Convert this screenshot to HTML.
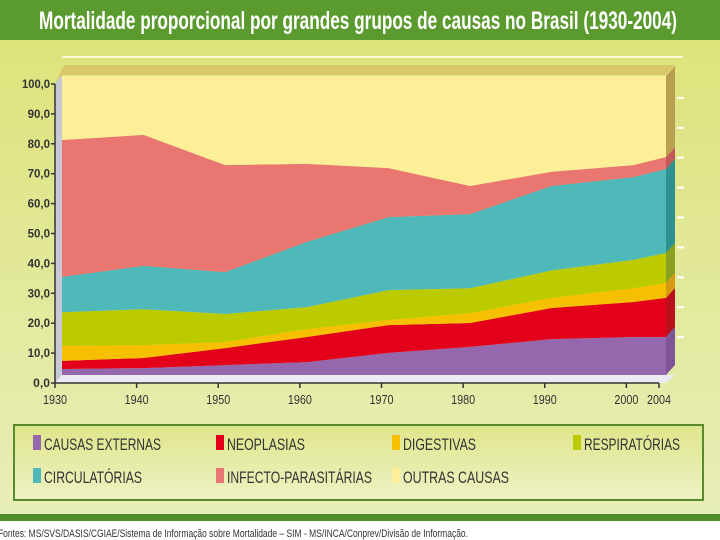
<!DOCTYPE html>
<html><head><meta charset="utf-8"><style>
html,body{margin:0;padding:0;width:720px;height:540px;overflow:hidden;background:#fff}
svg{display:block}
text{font-family:"Liberation Sans Narrow","Liberation Sans",sans-serif}
</style></head><body>
<svg id="chart" width="720" height="540" viewBox="0 0 720 540">
<defs>
<linearGradient id="bg" x1="0" y1="0" x2="0" y2="1"><stop offset="0" stop-color="#dde37a"/><stop offset="1" stop-color="#e8eeb8"/></linearGradient>
<linearGradient id="lg" x1="0" y1="0" x2="0" y2="1"><stop offset="0" stop-color="#dfe58a"/><stop offset="1" stop-color="#eef2c4"/></linearGradient>
</defs>
<rect x="0" y="38" width="720" height="477" fill="url(#bg)"/>
<rect x="0" y="0" width="720" height="40" fill="#5a9a2e"/>
<text x="39" y="29" textLength="638" lengthAdjust="spacingAndGlyphs" font-size="25" font-weight="bold" fill="#fff">Mortalidade proporcional por grandes grupos de causas no Brasil (1930-2004)</text>
<line x1="62" y1="57" x2="683" y2="57" stroke="#fbf7d8" stroke-width="2"/>
<polygon points="55,84 64,65 675,65 666,75 62,75" fill="#d8c86a"/>
<polygon points="55,84 62,75 62,375 55,383" fill="#c9c9d6"/>
<polygon points="55,383 62,375 675,375 666,383" fill="#ecebf2"/>
<g id="areas"></g>
<g id="side"></g>
<g id="axes"></g>
<g id="legend">
<rect x="14" y="425" width="689" height="75" fill="url(#lg)" stroke="#5a8a2e" stroke-width="2"/>
</g>
<rect x="0" y="514" width="720" height="7" fill="#4f8f2a"/>
<text x="-2" y="537" textLength="470" lengthAdjust="spacingAndGlyphs" font-size="11" fill="#333">Fontes: MS/SVS/DASIS/CGIAE/Sistema de Informação sobre Mortalidade – SIM - MS/INCA/Conprev/Divisão de Informação.</text>
</svg>
<script>
const years = [1930, 1940, 1950, 1960, 1970, 1980, 1990, 2000, 2004];
const seriesNames = ["CAUSAS EXTERNAS","NEOPLASIAS","DIGESTIVAS","RESPIRATÓRIAS","CIRCULATÓRIAS","INFECTO-PARASITÁRIAS","OUTRAS CAUSAS"];
const externas = [2.0, 2.3, 3.3, 4.3, 7.4, 9.4, 12.0, 12.7, 12.7];
const neoplasias = [2.7, 3.4, 5.7, 8.4, 9.3, 8.0, 10.4, 11.7, 13.1];
const digestivas = [5.0, 4.3, 2.0, 2.7, 1.7, 3.3, 3.4, 4.6, 5.0];
const respiratorias = [11.3, 12.0, 9.4, 7.3, 10.0, 8.3, 9.2, 9.5, 10.0];
const circulatorias = [11.8, 14.5, 14.0, 21.8, 24.4, 24.8, 28.2, 27.7, 28.1];
const infecto = [45.8, 43.8, 35.8, 26.1, 16.4, 9.4, 4.8, 4.0, 4.0];
const outras = [21.4, 19.7, 29.8, 29.4, 30.8, 36.8, 32.0, 29.8, 27.1];
const yTicks = [0,10,20,30,40,50,60,70,80,90,100];
const yTickLabels = ["0,0","10,0","20,0","30,0","40,0","50,0","60,0","70,0","80,0","90,0","100,0"];

const colors = ["#9568ae","#e3001b","#f6c000","#bccb00","#4fb9b9","#ea7671","#fdee98"];
const sideColors = ["#7d5596","#b8101c","#d89a10","#8aa020","#2f9090","#c45a58","#b8a050"];
const keys = ["causas-externas","neoplasias","digestivas","respiratorias","circulatorias","infecto-parasitarias","outras-causas"];
const series = [externas, neoplasias, digestivas, respiratorias, circulatorias, infecto, outras];
const NS = "http://www.w3.org/2000/svg";
const x = y => 62 + (y - 1930) / 74 * 604;
const yv = v => 375 - v * 2.99;
const xa = y => x(y) - 7;
const ya = v => 383 - v * 2.99;

function mk(tag, attrs, parent){const e=document.createElementNS(NS,tag);for(const k in attrs)e.setAttribute(k,attrs[k]);parent.appendChild(e);return e;}
const areas=document.getElementById('areas'), side=document.getElementById('side'), axes=document.getElementById('axes');
let base = years.map(()=>0);
series.forEach((s,i)=>{
  const top = base.map((b,j)=>b+s[j]);
  const total = i===series.length-1 ? top.map(()=>100) : top;
  let d = years.map((yr,j)=>(j?'L':'M')+x(yr).toFixed(1)+','+yv(total[j]).toFixed(1)).join(' ');
  for(let j=years.length-1;j>=0;j--) d+=' L'+x(years[j]).toFixed(1)+','+yv(base[j]).toFixed(1);
  const p = mk('path',{d:d+' Z',fill:colors[i]},areas);
  
  
  const n=years.length-1, xr=x(years[n]);
  const sp = mk('polygon',{points:`${xr},${yv(total[n])} ${xr+9},${yv(total[n])-10} ${xr+9},${yv(base[n])-10} ${xr},${yv(base[n])}`,fill:sideColors[i]},side);
  
  
  base = total;
});
for(let v=10; v<=90; v+=10){
  const t=mk('line',{x1:677,y1:yv(v)-8,x2:684,y2:yv(v)-8,stroke:'#fff','stroke-width':2},side);
  
  
}
const ay=mk('line',{x1:55,y1:ya(100),x2:55,y2:ya(0),stroke:'#333','stroke-width':1.5},axes);


yTicks.forEach((v,i)=>{
  const t=mk('line',{x1:51,y1:ya(v),x2:55,y2:ya(v),stroke:'#333','stroke-width':1.5},axes);
  
  
  const lab=yTickLabels[i];
  const w=lab.length*5.6;
  const l=mk('text',{x:50-w,y:ya(v)+4,textLength:w,lengthAdjust:'spacingAndGlyphs','font-size':12,'font-weight':'bold',fill:'#333'},axes);
  l.textContent=lab;
  
  
});
const ax=mk('line',{x1:55,y1:ya(0),x2:xa(2004),y2:ya(0),stroke:'#333','stroke-width':1.5},axes);


years.forEach(yr=>{
  const t=mk('line',{x1:xa(yr),y1:ya(0),x2:xa(yr),y2:ya(0)+5,stroke:'#333','stroke-width':1.5},axes);
  
  
  const l=mk('text',{x:xa(yr)-12,y:ya(0)+21,textLength:24,lengthAdjust:'spacingAndGlyphs','font-size':13,fill:'#333'},axes);
  l.textContent=yr;
  
  
});
const lg=document.getElementById('legend');
const lpos=[[33,444],[216,444],[392,444],[573,444],[33,477],[216,477],[392,477]];
const lw=[117,78,73,96,98,145,106];
seriesNames.forEach((nm,i)=>{
  const [lx,ly]=lpos[i];
  const g=mk('g',{},lg);
  
  
  mk('rect',{x:lx,y:ly-9,width:8,height:15,fill:colors[i]},g);
  const t=mk('text',{x:lx+11,y:ly+6,textLength:lw[i],lengthAdjust:'spacingAndGlyphs','font-size':17,fill:'#333'},g);
  t.textContent=nm;
});
</script>
</body></html>
